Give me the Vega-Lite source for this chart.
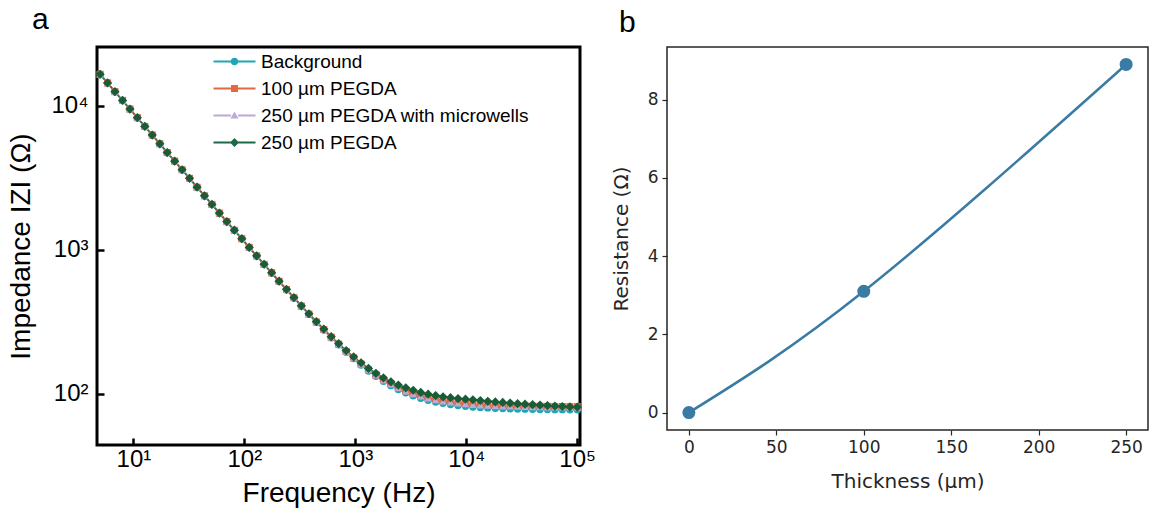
{
  "$schema": "https://vega.github.io/schema/vega-lite/v6.json",
  "background": "white",
  "padding": {"left": 6, "top": 3, "right": 0, "bottom": 0},
  "spacing": 12,
  "config": {
    "font": "Liberation Sans",
    "axis": {"grid": false},
    "title": {"fontWeight": "normal", "color": "black"}
  },
  "hconcat": [
    {
      "width": 483,
      "height": 398,
      "view": {"stroke": "black", "strokeWidth": 3},
      "title": {"text": "a", "anchor": "start", "frame": "group", "dx": -65, "offset": 12, "fontSize": 30, "font": "Liberation Sans", "fontWeight": "normal"},
      "data": {
        "values": [
          {"f": 5.01, "bg": 16608, "p100": 16609, "pmw": 16609, "p250": 16610},
          {"f": 5.85, "bg": 14466, "p100": 14467, "pmw": 14467, "p250": 14468},
          {"f": 6.82, "bg": 12572, "p100": 12573, "pmw": 12573, "p250": 12574},
          {"f": 7.98, "bg": 10926, "p100": 10927, "pmw": 10927, "p250": 10928},
          {"f": 9.31, "bg": 9518, "p100": 9519, "pmw": 9519, "p250": 9520},
          {"f": 10.86, "bg": 8291, "p100": 8292, "pmw": 8292, "p250": 8293},
          {"f": 12.68, "bg": 7206, "p100": 7207, "pmw": 7207, "p250": 7208},
          {"f": 14.79, "bg": 6278, "p100": 6279, "pmw": 6279, "p250": 6280},
          {"f": 17.3, "bg": 5457, "p100": 5458, "pmw": 5458, "p250": 5459},
          {"f": 20.18, "bg": 4744, "p100": 4745, "pmw": 4745, "p250": 4746},
          {"f": 23.55, "bg": 4133, "p100": 4134, "pmw": 4134, "p250": 4135},
          {"f": 27.48, "bg": 3601, "p100": 3602, "pmw": 3602, "p250": 3603},
          {"f": 32.06, "bg": 3138, "p100": 3139, "pmw": 3139, "p250": 3140},
          {"f": 37.5, "bg": 2722, "p100": 2723, "pmw": 2723, "p250": 2724},
          {"f": 43.75, "bg": 2372, "p100": 2373, "pmw": 2373, "p250": 2374},
          {"f": 51.05, "bg": 2068, "p100": 2069, "pmw": 2069, "p250": 2070},
          {"f": 59.57, "bg": 1798, "p100": 1799, "pmw": 1799, "p250": 1800},
          {"f": 69.5, "bg": 1569, "p100": 1570, "pmw": 1570, "p250": 1572},
          {"f": 81.28, "bg": 1366, "p100": 1368, "pmw": 1367, "p250": 1369},
          {"f": 94.84, "bg": 1193, "p100": 1194, "pmw": 1194, "p250": 1196},
          {"f": 110.7, "bg": 1038, "p100": 1039, "pmw": 1039, "p250": 1040},
          {"f": 129.1, "bg": 906.2, "p100": 907.2, "pmw": 906.9, "p250": 908.4},
          {"f": 150.7, "bg": 791.7, "p100": 792.7, "pmw": 792.4, "p250": 794.0},
          {"f": 176.2, "bg": 691.2, "p100": 692.3, "pmw": 692.0, "p250": 693.6},
          {"f": 205.6, "bg": 602.8, "p100": 604.0, "pmw": 603.7, "p250": 605.4},
          {"f": 239.9, "bg": 528.5, "p100": 529.7, "pmw": 529.4, "p250": 531.3},
          {"f": 279.9, "bg": 463.3, "p100": 464.6, "pmw": 464.3, "p250": 466.2},
          {"f": 326.6, "bg": 405.2, "p100": 406.6, "pmw": 406.2, "p250": 408.3},
          {"f": 381.9, "bg": 356.2, "p100": 357.7, "pmw": 357.3, "p250": 359.6},
          {"f": 445.6, "bg": 313.4, "p100": 315.0, "pmw": 314.6, "p250": 317.0},
          {"f": 520.0, "bg": 277.6, "p100": 279.3, "pmw": 278.9, "p250": 281.5},
          {"f": 606.7, "bg": 245.1, "p100": 247.0, "pmw": 246.5, "p250": 249.3},
          {"f": 707.9, "bg": 218.7, "p100": 220.7, "pmw": 220.2, "p250": 223.2},
          {"f": 827.9, "bg": 194.5, "p100": 196.6, "pmw": 196.1, "p250": 199.4},
          {"f": 966.1, "bg": 175.4, "p100": 177.7, "pmw": 177.1, "p250": 180.6},
          {"f": 1127, "bg": 158.5, "p100": 160.9, "pmw": 160.3, "p250": 164.1},
          {"f": 1315, "bg": 143.8, "p100": 146.4, "pmw": 145.8, "p250": 149.8},
          {"f": 1535, "bg": 132.3, "p100": 135.1, "pmw": 134.4, "p250": 138.7},
          {"f": 1795, "bg": 122.0, "p100": 125.0, "pmw": 124.2, "p250": 128.8},
          {"f": 2094, "bg": 113.8, "p100": 116.9, "pmw": 116.1, "p250": 120.9},
          {"f": 2443, "bg": 107.0, "p100": 110.2, "pmw": 109.4, "p250": 114.8},
          {"f": 2851, "bg": 101.4, "p100": 104.8, "pmw": 103.9, "p250": 109.9},
          {"f": 3327, "bg": 96.8, "p100": 100.3, "pmw": 99.4, "p250": 105.7},
          {"f": 3890, "bg": 93.1, "p100": 96.7, "pmw": 95.8, "p250": 102.1},
          {"f": 4539, "bg": 90.1, "p100": 93.7, "pmw": 92.8, "p250": 99.3},
          {"f": 5297, "bg": 87.6, "p100": 91.4, "pmw": 90.4, "p250": 97.0},
          {"f": 6180, "bg": 85.7, "p100": 89.5, "pmw": 88.5, "p250": 95.2},
          {"f": 7211, "bg": 84.1, "p100": 88.0, "pmw": 87.0, "p250": 93.8},
          {"f": 8433, "bg": 82.8, "p100": 86.7, "pmw": 85.7, "p250": 92.5},
          {"f": 9840, "bg": 81.8, "p100": 85.7, "pmw": 84.7, "p250": 91.6},
          {"f": 11482, "bg": 80.9, "p100": 84.9, "pmw": 83.9, "p250": 90.8},
          {"f": 13397, "bg": 80.3, "p100": 84.2, "pmw": 83.2, "p250": 89.7},
          {"f": 15631, "bg": 79.7, "p100": 83.7, "pmw": 82.7, "p250": 88.6},
          {"f": 18281, "bg": 79.3, "p100": 83.2, "pmw": 82.2, "p250": 87.7},
          {"f": 21330, "bg": 78.9, "p100": 82.9, "pmw": 81.9, "p250": 86.9},
          {"f": 24889, "bg": 78.6, "p100": 82.6, "pmw": 81.6, "p250": 86.1},
          {"f": 29040, "bg": 78.3, "p100": 82.3, "pmw": 81.3, "p250": 85.3},
          {"f": 33884, "bg": 78.1, "p100": 82.1, "pmw": 81.1, "p250": 84.6},
          {"f": 39628, "bg": 77.9, "p100": 81.9, "pmw": 80.9, "p250": 83.9},
          {"f": 46238, "bg": 77.7, "p100": 81.7, "pmw": 80.7, "p250": 83.3},
          {"f": 53951, "bg": 77.6, "p100": 81.6, "pmw": 80.6, "p250": 82.7},
          {"f": 62951, "bg": 77.5, "p100": 81.5, "pmw": 80.5, "p250": 82.1},
          {"f": 73451, "bg": 77.5, "p100": 81.4, "pmw": 80.4, "p250": 81.5},
          {"f": 85901, "bg": 77.4, "p100": 81.3, "pmw": 80.3, "p250": 81.1},
          {"f": 100231, "bg": 77.3, "p100": 81.2, "pmw": 80.2, "p250": 80.8}
        ]
      },
      "transform": [{"fold": ["bg", "p100", "pmw", "p250"], "as": ["series", "z"]}],
      "encoding": {
        "x": {
          "field": "f", "type": "quantitative",
          "scale": {"type": "log", "domain": [4.7, 106000], "nice": false},
          "axis": {
            "title": "Frequency (Hz)",
            "values": [10, 100, 1000, 10000, 100000],
            "labelExpr": "datum.value < 50 ? '10¹' : datum.value < 500 ? '10²' : datum.value < 5000 ? '10³' : datum.value < 50000 ? '10⁴' : '10⁵'",
            "labelFont": "Liberation Sans", "labelFontSize": 24, "labelColor": "black",
            "titleFont": "Liberation Sans", "titleFontSize": 28, "titleFontWeight": "normal", "titleColor": "black",
            "domain": false, "tickColor": "black", "tickWidth": 2.5, "tickSize": 7, "offset": -7,
            "labelPadding": 2, "titlePadding": 8, "labelFlush": false
          }
        },
        "y": {
          "field": "z", "type": "quantitative",
          "scale": {"type": "log", "domain": [44, 25700], "nice": false},
          "axis": {
            "title": "Impedance IZI (Ω)",
            "values": [100, 1000, 10000],
            "labelExpr": "datum.value < 500 ? '10²' : datum.value < 5000 ? '10³' : '10⁴'",
            "labelFont": "Liberation Sans", "labelFontSize": 24, "labelColor": "black",
            "titleFont": "Liberation Sans", "titleFontSize": 28, "titleFontWeight": "normal", "titleColor": "black",
            "domain": false, "tickColor": "black", "tickWidth": 2.5, "tickSize": 7, "offset": -7,
            "labelPadding": 9, "titlePadding": 15
          }
        }
      },
      "layer": [
        {
          "mark": {"type": "line", "strokeWidth": 1.6},
          "encoding": {
            "stroke": {"field": "series", "type": "nominal",
              "scale": {"domain": ["p250", "pmw", "p100", "bg"], "range": ["#1f7652", "#bca9d8", "#e2683f", "#1aa8b5"]},
              "legend": null}
          }
        },
        {
          "transform": [{"filter": "datum.series === 'bg'"}],
          "mark": {"type": "point", "shape": "circle", "filled": true, "size": 55, "opacity": 1, "strokeWidth": 0},
          "encoding": {"fill": {"field": "series", "type": "nominal",
            "scale": {"domain": ["p250", "pmw", "p100", "bg"], "range": ["#185c38", "#bca9d8", "#e2683f", "#1aa8b5"]},
            "legend": null}}
        },
        {
          "transform": [{"filter": "datum.series === 'p100'"}],
          "mark": {"type": "point", "shape": "square", "filled": true, "size": 50, "opacity": 1, "strokeWidth": 0},
          "encoding": {"fill": {"field": "series", "type": "nominal", "legend": null}}
        },
        {
          "transform": [{"filter": "datum.series === 'pmw'"}],
          "mark": {"type": "point", "shape": "triangle-up", "filled": true, "size": 55, "opacity": 1, "strokeWidth": 0},
          "encoding": {"fill": {"field": "series", "type": "nominal", "legend": null}}
        },
        {
          "transform": [{"filter": "datum.series === 'p250'"}],
          "mark": {"type": "point", "shape": "diamond", "filled": true, "size": 85, "opacity": 1, "strokeWidth": 0},
          "encoding": {"fill": {"field": "series", "type": "nominal", "legend": null}}
        },
        {
          "mark": {"type": "point", "filled": true, "opacity": 0},
          "encoding": {
            "color": {"field": "series", "type": "nominal",
              "scale": {"domain": ["bg", "p100", "pmw", "p250"], "range": ["#1aa8b5", "#e2683f", "#bca9d8", "#1c6a47"]},
              "legend": {
                "title": null, "orient": "none", "legendX": 128, "legendY": 5, "padding": 0,
                "symbolSize": 100, "symbolOpacity": 1, "symbolStrokeWidth": 0, "labelOffset": 17, "rowPadding": 7,
                "labelFont": "Liberation Sans", "labelFontSize": 19, "labelColor": "black", "labelLimit": 400,
                "labelExpr": "datum.label == 'bg' ? 'Background' : datum.label == 'p100' ? '100 µm PEGDA' : datum.label == 'pmw' ? '250 µm PEGDA with microwells' : '250 µm PEGDA'"
              }},
            "shape": {"field": "series", "type": "nominal",
              "scale": {"domain": ["bg", "p100", "pmw", "p250"], "range": [
                "M-4.2,-0.2H-0.7V0.2H-4.2Z M0.7,-0.2H4.2V0.2H0.7Z M-0.75,0A0.75,0.75 0 1,1 0.75,0A0.75,0.75 0 1,1 -0.75,0Z",
                "M-4.2,-0.2H-0.7V0.2H-4.2Z M0.7,-0.2H4.2V0.2H0.7Z M-0.7,-0.7H0.7V0.7H-0.7Z",
                "M-4.2,-0.2H-0.7V0.2H-4.2Z M0.7,-0.2H4.2V0.2H0.7Z M0,-0.8L0.8,0.6H-0.8Z",
                "M-4.2,-0.2H-0.7V0.2H-4.2Z M0.7,-0.2H4.2V0.2H0.7Z M0,-0.9L0.9,0L0,0.9L-0.9,0Z"
              ]},
              "legend": {
                "title": null, "orient": "none", "legendX": 128, "legendY": 5, "padding": 0,
                "symbolSize": 100, "symbolOpacity": 1, "symbolStrokeWidth": 0, "labelOffset": 17, "rowPadding": 7,
                "labelFont": "Liberation Sans", "labelFontSize": 19, "labelColor": "black", "labelLimit": 400,
                "labelExpr": "datum.label == 'bg' ? 'Background' : datum.label == 'p100' ? '100 µm PEGDA' : datum.label == 'pmw' ? '250 µm PEGDA with microwells' : '250 µm PEGDA'"
              }}
          }
        }
      ]
    },
    {
      "width": 481,
      "height": 383,
      "view": {"stroke": "#262626", "strokeWidth": 1.5},
      "title": {"text": "b", "anchor": "start", "frame": "group", "dx": -48, "offset": 9, "fontSize": 30, "font": "Liberation Sans", "fontWeight": "normal"},
      "data": {"values": [
        {"thickness": 0, "resistance": 0},
        {"thickness": 100, "resistance": 3.1},
        {"thickness": 250, "resistance": 8.9}
      ]},
      "encoding": {
        "x": {"field": "thickness", "type": "quantitative",
          "scale": {"domain": [-12.5, 262.5], "nice": false, "zero": false},
          "axis": {"title": "Thickness (µm)", "values": [0, 50, 100, 150, 200, 250],
            "labelFont": "DejaVu Sans", "labelFontSize": 17, "labelColor": "#262626",
            "titleFont": "DejaVu Sans", "titleFontSize": 20, "titleFontWeight": "normal", "titleColor": "#262626",
            "domain": false, "tickColor": "#262626", "tickSize": 5, "tickWidth": 1.2, "labelPadding": 4, "titlePadding": 16}},
        "y": {"field": "resistance", "type": "quantitative",
          "scale": {"domain": [-0.445, 9.345], "nice": false, "zero": false},
          "axis": {"title": "Resistance (Ω)", "values": [0, 2, 4, 6, 8],
            "labelFont": "DejaVu Sans", "labelFontSize": 17, "labelColor": "#262626",
            "titleFont": "DejaVu Sans", "titleFontSize": 20, "titleFontWeight": "normal", "titleColor": "#262626",
            "domain": false, "tickColor": "#262626", "tickSize": 5, "tickWidth": 1.2, "labelPadding": 4, "titlePadding": 16}}
      },
      "layer": [
        {"mark": {"type": "line", "interpolate": "natural", "color": "#3a7ba4", "strokeWidth": 2.5}, "encoding": {}},
        {"mark": {"type": "point", "filled": true, "size": 170, "color": "#3a7ba4", "opacity": 1}, "encoding": {}}
      ]
    }
  ]
}
